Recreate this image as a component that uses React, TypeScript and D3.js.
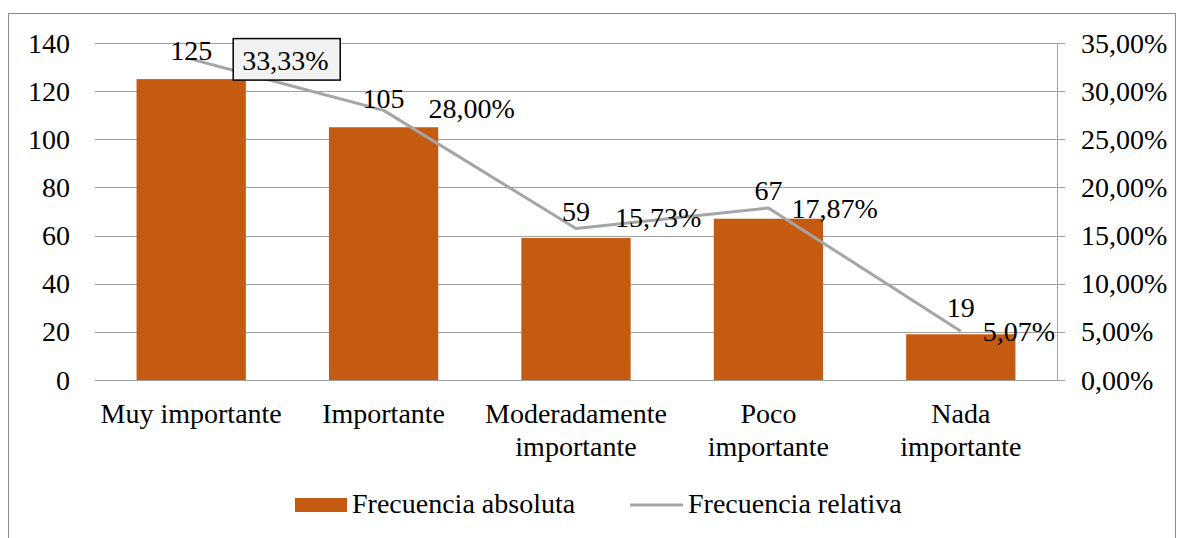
import React from "react";
import * as d3 from "d3";

const categories = [["Muy importante"], ["Importante"], ["Moderadamente", "importante"], ["Poco", "importante"], ["Nada", "importante"]];
const absolute = [125, 105, 59, 67, 19];
const relative = [0.3333, 0.28, 0.1573, 0.1787, 0.0507];
const leftTicks = [0, 20, 40, 60, 80, 100, 120, 140];
const rightTicks = [0, 0.05, 0.1, 0.15, 0.2, 0.25, 0.3, 0.35];
const countLabelDy = [1, -2, -8, -8, -14];
const pctLabelDx = [51, 45, 39, 23, 22];
const pctLabelDy = [11, 8, -2, 10, 10];

const W = 1177, H = 538;
const plot = { left: 95, right: 1057, top: 43, bottom: 380 };
const FONT = "Liberation Serif, Times New Roman, DejaVu Serif, serif";
const FS = 28;
const ORANGE = "#C55A11";
const GRAY = "#A5A5A5";
const GRID = "#A0A0A0";

const fmtPct = (v: number) => (v * 100).toFixed(2).replace(".", ",") + "%";

export default function App() {
  const x = d3.scaleBand<number>().domain(d3.range(categories.length)).range([plot.left, plot.right]).paddingInner(0.432).paddingOuter(0.216);
  const yL = d3.scaleLinear().domain([0, 140]).range([plot.bottom, plot.top]);
  const yR = d3.scaleLinear().domain([0, 0.35]).range([plot.bottom, plot.top]);
  const cx = (i: number) => (x(i) as number) + x.bandwidth() / 2;
  const line = d3.line<number>().x((_, i) => cx(i)).y((d) => yR(d));
  const T = { fontFamily: FONT, fontSize: FS, fill: "#000" } as any;

  return (
    <svg width={W} height={H} style={{ position: "absolute", left: 0, top: 0 }} fontFamily={FONT}>
      <rect x={0} y={0} width={W} height={H} fill="#fff" />
      <rect x={8.5} y={13.5} width={1167} height={560} fill="none" stroke="#8c8c8c" strokeWidth={1} />
      {leftTicks.map((t) => (
        <line key={"g" + t} x1={plot.left} x2={plot.right + 8} y1={Math.round(yL(t)) + 0.5} y2={Math.round(yL(t)) + 0.5} stroke={GRID} strokeWidth={1} />
      ))}
      <line x1={plot.right + 0.5} x2={plot.right + 0.5} y1={plot.top} y2={plot.bottom} stroke={GRID} strokeWidth={1} />
      {leftTicks.map((t) => (
        <text key={"l" + t} x={70} y={yL(t) + 9.5} textAnchor="end" {...T}>{t}</text>
      ))}
      {rightTicks.map((t) => (
        <text key={"r" + t} x={1081} y={yR(t) + 9.5} textAnchor="start" {...T}>{fmtPct(t)}</text>
      ))}
      {absolute.map((v, i) => (
        <rect key={"b" + i} x={x(i)} y={yL(v)} width={x.bandwidth()} height={plot.bottom - yL(v)} fill={ORANGE} />
      ))}
      <path d={line(relative) || ""} fill="none" stroke={GRAY} strokeWidth={3} strokeLinejoin="round" />
      {categories.map((lines, i) => (
        <text key={"c" + i} x={cx(i)} y={423} textAnchor="middle" {...T}>
          {lines.map((l, j) => (
            <tspan key={j} x={cx(i)} dy={j === 0 ? 0 : 33}>{l}</tspan>
          ))}
        </text>
      ))}
      {absolute.map((v, i) => (
        <text key={"a" + i} x={cx(i)} y={yR(relative[i]) + countLabelDy[i]} textAnchor="middle" {...T}>{v}</text>
      ))}
      {relative.map((v, i) => {
        const tx = cx(i) + pctLabelDx[i];
        const ty = yR(v) + pctLabelDy[i];
        return (
          <g key={"p" + i}>
            {i === 0 && (
              <rect x={tx - 9} y={ty - 31.5} width={107} height={41.5} fill="#F2F2F2" stroke="#000" strokeWidth={1.5} />
            )}
            <text x={tx} y={ty} textAnchor="start" {...T}>{fmtPct(v)}</text>
          </g>
        );
      })}
      <rect x={295} y={498} width={52} height={14} fill={ORANGE} />
      <text x={352} y={513} {...T}>Frecuencia absoluta</text>
      <line x1={630} x2={683} y1={505} y2={505} stroke={GRAY} strokeWidth={3} />
      <text x={688} y={513} {...T}>Frecuencia relativa</text>
    </svg>
  );
}
